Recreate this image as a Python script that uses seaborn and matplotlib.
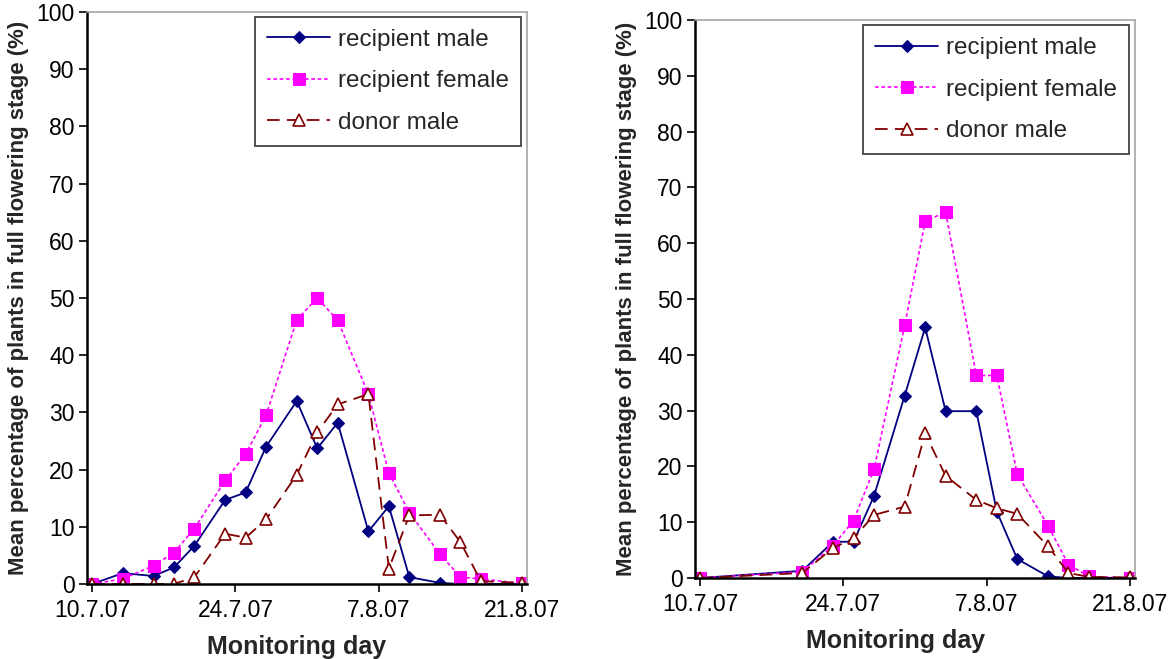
import matplotlib
matplotlib.use("Agg")
import matplotlib.pyplot as plt
import seaborn as sns
import pandas as pd

# ---- data ----
series_names = ["recipient male", "recipient female", "donor male"]

left_dates = ["2007-07-10", "2007-07-13", "2007-07-16", "2007-07-18", "2007-07-20",
              "2007-07-23", "2007-07-25", "2007-07-27", "2007-07-30", "2007-08-01",
              "2007-08-03", "2007-08-06", "2007-08-08", "2007-08-10", "2007-08-13",
              "2007-08-15", "2007-08-17", "2007-08-21"]
left_male = [0, 1.9, 1.4, 2.9, 6.7, 14.7, 16.0, 24.0, 32.0, 23.7, 28.2, 9.2, 13.6, 1.2, 0.2, 0, 0, 0]
left_female = [0, 0.9, 3.2, 5.5, 9.7, 18.1, 22.7, 29.5, 46.2, 50.0, 46.1, 33.2, 19.4, 12.5, 5.2, 1.2, 0.9, 0.1]
left_donor = [0, 0, 0, 0, 1.2, 8.8, 8.1, 11.3, 19.1, 26.5, 31.4, 33.2, 2.7, 12.0, 12.1, 7.3, 0.5, 0.2]

right_dates = ["2007-07-10", "2007-07-20", "2007-07-23", "2007-07-25", "2007-07-27",
               "2007-07-30", "2007-08-01", "2007-08-03", "2007-08-06", "2007-08-08",
               "2007-08-10", "2007-08-13", "2007-08-15", "2007-08-17", "2007-08-21"]
right_male = [0, 1.3, 6.5, 6.5, 14.7, 32.7, 44.9, 29.9, 29.9, 11.9, 3.4, 0.3, 0, 0, 0]
right_female = [0, 1.1, 5.8, 10.3, 19.5, 45.3, 63.9, 65.6, 36.3, 36.3, 18.6, 9.4, 2.4, 0.3, 0]
right_donor = [0, 0.9, 5.4, 7.1, 11.3, 12.8, 25.9, 18.3, 14.0, 12.5, 11.5, 5.7, 0.9, 0.2, 0.1]

tick_dates = ["2007-07-10", "2007-07-24", "2007-08-07", "2007-08-21"]
tick_labels = ["10.7.07", "24.7.07", "7.8.07", "21.8.07"]
y_ticks = list(range(0, 101, 10))

x_label = "Monitoring day"
y_label = "Mean percentage of plants in full flowering stage (%)"

# ---- style ----
sns.set_style("white")
plt.rcParams["font.family"] = ["Liberation Sans", "DejaVu Sans"]

styles = [
    dict(color="#000080", marker="D", markersize=6.5, linestyle="-", linewidth=1.3,
         markerfacecolor="#000080", markeredgecolor="#000080"),
    dict(color="#FF00FF", marker="s", markersize=8.5, linestyle=(0, (2.2, 1.6)), linewidth=1.2,
         markerfacecolor="#FF00FF", markeredgecolor="#FF00FF"),
    dict(color="#800000", marker="^", markersize=8.5, linestyle=(0, (7, 4)), linewidth=1.3,
         markerfacecolor="white", markeredgecolor="#800000", markeredgewidth=1.2),
]

fig = plt.figure(figsize=(11.68, 6.59), dpi=100)
ax1 = fig.add_axes([0.0745, 0.1138, 0.3767, 0.868])
ax2 = fig.add_axes([0.595, 0.1229, 0.3767, 0.8467])

panels = [
    (ax1, left_dates, [left_male, left_female, left_donor], (0.986, 0.992), 0.476),
    (ax2, right_dates, [right_male, right_female, right_donor], (0.986, 0.991), 0.455),
]

for ax, dates, vals_list, anchor, xlab_pos in panels:
    d = pd.to_datetime(dates)
    for name, vals, st in zip(series_names, vals_list, styles):
        df = pd.DataFrame({"date": d, "value": vals})
        sns.lineplot(data=df, x="date", y="value", ax=ax, label=name, **st)
    ax.set_xlim(pd.Timestamp("2007-07-10") - pd.Timedelta(hours=12),
                pd.Timestamp("2007-08-21") + pd.Timedelta(hours=12))
    ax.set_ylim(0, 100)
    ax.set_xticks(pd.to_datetime(tick_dates))
    ax.set_xticklabels(tick_labels)
    ax.set_yticks(y_ticks)
    ax.tick_params(axis="both", direction="out", length=6, width=1.2, color="black",
                   labelsize=16.5, labelcolor="black", pad=3)
    ax.tick_params(axis="x", pad=5, bottom=True)
    ax.tick_params(axis="y", left=True)
    for side in ["left", "bottom"]:
        ax.spines[side].set_color("black")
        ax.spines[side].set_linewidth(1.8)
    for side in ["top", "right"]:
        ax.spines[side].set_color("#a6a6a6")
        ax.spines[side].set_linewidth(1.2)
    ax.set_xlabel(x_label, fontsize=18, fontweight="bold", labelpad=9)
    ax.xaxis.label.set_x(xlab_pos)
    ax.set_ylabel(y_label, fontsize=16, fontweight="bold", labelpad=5)
    ax.grid(False)
    leg = ax.legend(loc="upper right", bbox_to_anchor=anchor, fontsize=17.5,
                    frameon=True, fancybox=False, edgecolor="black",
                    handlelength=2.6, handletextpad=0.3, labelspacing=0.8,
                    borderpad=0.5, borderaxespad=0.0)
    leg.get_frame().set_linewidth(1.2)
    ax.set_zorder(1)

fig.savefig("out.png", dpi=100, facecolor="white")
